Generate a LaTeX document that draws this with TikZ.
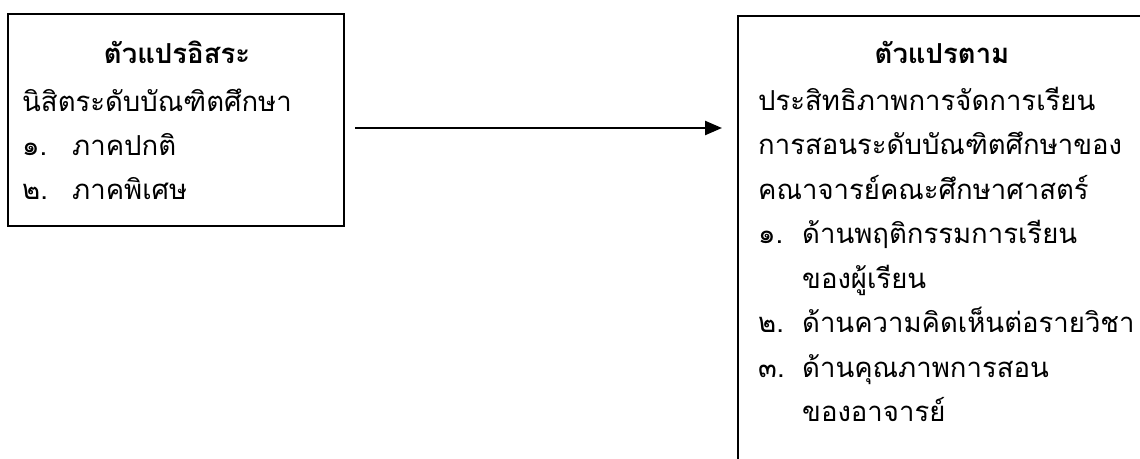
\documentclass[tikz,border=0pt]{standalone}
\usepackage{fontspec}
\newfontfamily\thai[Script=Thai]{Loma}
\usetikzlibrary{arrows.meta,calc}
\tikzset{
  frame/.style={draw=black, line width=2pt, inner sep=0pt, anchor=north west},
  txt/.style={inner sep=0pt, anchor=base west, font=\thai\fontsize{27.5}{30}\selectfont},
  ttl/.style={inner sep=0pt, anchor=base, font=\thai\bfseries\fontsize{27.5}{30}\selectfont},
  link/.style={line width=2.4pt, -{Triangle[length=17pt,width=14pt]}}
}
\begin{document}
\begin{tikzpicture}[x=1pt,y=-1pt]
\useasboundingbox (0,0) rectangle (1140,458);
\clip (0,0) rectangle (1140,458);
% boxes
\node[frame, minimum width=336pt, minimum height=212pt] (L) at (7,13) {};
\node[frame, minimum width=440pt, minimum height=480pt] (R) at (737,15) {};
% left texts
\node[ttl] (lt) at (177,63) {ตัวแปรอิสระ};
\node[txt] (l1) at (22,111) {นิสิตระดับบัณฑิตศึกษา};
\node[txt] (l2) at (22,155) {\makebox[50pt][l]{๑.}ภาคปกติ};
\node[txt] (l3) at (22,199) {\makebox[50pt][l]{๒.}ภาคพิเศษ};
% right texts
\node[ttl] (rt) at (942,63) {ตัวแปรตาม};
\node[txt] (r1) at (758,110) {ประสิทธิภาพการจัดการเรียน};
\node[txt] (r2) at (758,154) {การสอนระดับบัณฑิตศึกษาของ};
\node[txt] (r3) at (758,199) {คณาจารย์คณะศึกษาศาสตร์};
\node[txt] (r4) at (758,243) {\makebox[44pt][l]{๑.}ด้านพฤติกรรมการเรียน};
\node[txt] (r5) at (802,288) {ของผู้เรียน};
\node[txt] (r6) at (758,332) {\makebox[44pt][l]{๒.}ด้านความคิดเห็นต่อรายวิชา};
\node[txt] (r7) at (758,377) {\makebox[44pt][l]{๓.}ด้านคุณภาพการสอน};
\node[txt] (r8) at (802,421) {ของอาจารย์};
% arrow
\path (L.east) ++(10,8) coordinate (s);
\coordinate (e) at ($(R.west |- s)+(-15,0)$);
\draw[link] (s) -- (e);
\end{tikzpicture}
\end{document}
